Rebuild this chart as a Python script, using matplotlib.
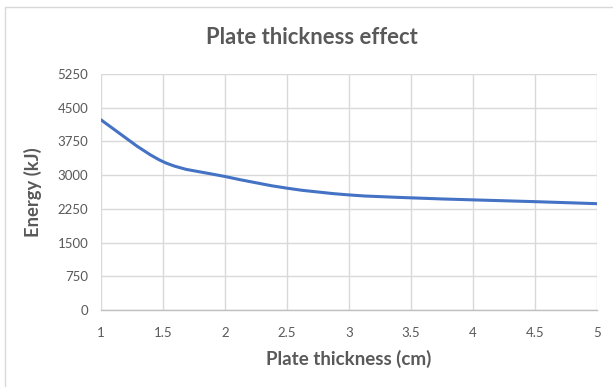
import matplotlib
matplotlib.use("Agg")
import matplotlib.pyplot as plt
from matplotlib.path import Path
from matplotlib.patches import PathPatch
from matplotlib.lines import Line2D
import numpy as np

thickness_cm = [1.0, 1.5, 2.0, 2.5, 3.0, 3.5, 4.0, 4.5, 5.0]
energy_kj = [4230, 3300, 2970, 2710, 2560, 2495, 2450, 2410, 2365]
x_ticks = [1, 1.5, 2, 2.5, 3, 3.5, 4, 4.5, 5]
x_tick_labels = ["1", "1.5", "2", "2.5", "3", "3.5", "4", "4.5", "5"]
y_ticks = [0, 750, 1500, 2250, 3000, 3750, 4500, 5250]
y_tick_labels = ["0", "750", "1500", "2250", "3000", "3750", "4500", "5250"]

TEXT = "#595959"
GRID = "#d9d9d9"
LINE = "#4472C4"
FONT = "Lato"

fig = plt.figure(figsize=(6.13, 3.87), dpi=100)
ax = fig.add_axes([101 / 613, 1 - 310 / 387, 496 / 613, 236 / 387])

# smoothed line: cubic Bezier segments through the data points
pts = np.column_stack([thickness_cm, energy_kj]).astype(float)
n = len(pts)
verts = [tuple(pts[0])]
codes = [Path.MOVETO]
for i in range(n - 1):
    p0 = pts[i - 1] if i > 0 else pts[i]
    p1 = pts[i]
    p2 = pts[i + 1]
    p3 = pts[i + 2] if i + 2 < n else pts[i + 1]
    c1 = p1 + (p2 - p0) / 6.0
    c2 = p2 - (p3 - p1) / 6.0
    verts += [tuple(c1), tuple(c2), tuple(p2)]
    codes += [Path.CURVE4] * 3
ax.add_patch(PathPatch(Path(verts, codes), facecolor="none", edgecolor=LINE,
                       linewidth=2.2, capstyle="round", zorder=3))

ax.set_xlim(1, 5)
ax.set_ylim(0, 5250)
ax.set_xticks(x_ticks)
ax.set_xticklabels(x_tick_labels)
ax.set_yticks(y_ticks)
ax.set_yticklabels(y_tick_labels)
ax.grid(True, color=GRID, linewidth=1.0)
ax.set_axisbelow(True)
for side in ["top", "right", "left"]:
    ax.spines[side].set_visible(False)
ax.spines["bottom"].set_color("#bfbfbf")
ax.spines["bottom"].set_linewidth(1.0)
ax.tick_params(axis="y", length=0, pad=9, labelsize=9.5, labelcolor=TEXT)
ax.tick_params(axis="x", length=0, pad=12, labelsize=9.5, labelcolor=TEXT)
for lab in ax.get_xticklabels() + ax.get_yticklabels():
    lab.set_fontfamily(FONT)

ax.set_xlabel("Plate thickness (cm)", fontsize=13.5, fontweight="bold",
              color=TEXT, fontfamily=FONT, labelpad=8)
ax.set_ylabel("Energy (kJ)", fontsize=13.2, fontweight="bold",
              color=TEXT, fontfamily=FONT, labelpad=11)
fig.text(312 / 613, 1 - 37 / 387, "Plate thickness effect", ha="center",
         va="center", fontsize=15.8, fontweight="bold", color=TEXT,
         fontfamily=FONT)

# chart frame
fig.add_artist(Line2D([5 / 613, 5 / 613, 1.0], [0.0, 1 - 7 / 387, 1 - 7 / 387],
                      transform=fig.transFigure, color="#d9d9d9", linewidth=1.0))

fig.savefig("out.png", dpi=100, facecolor="white")
